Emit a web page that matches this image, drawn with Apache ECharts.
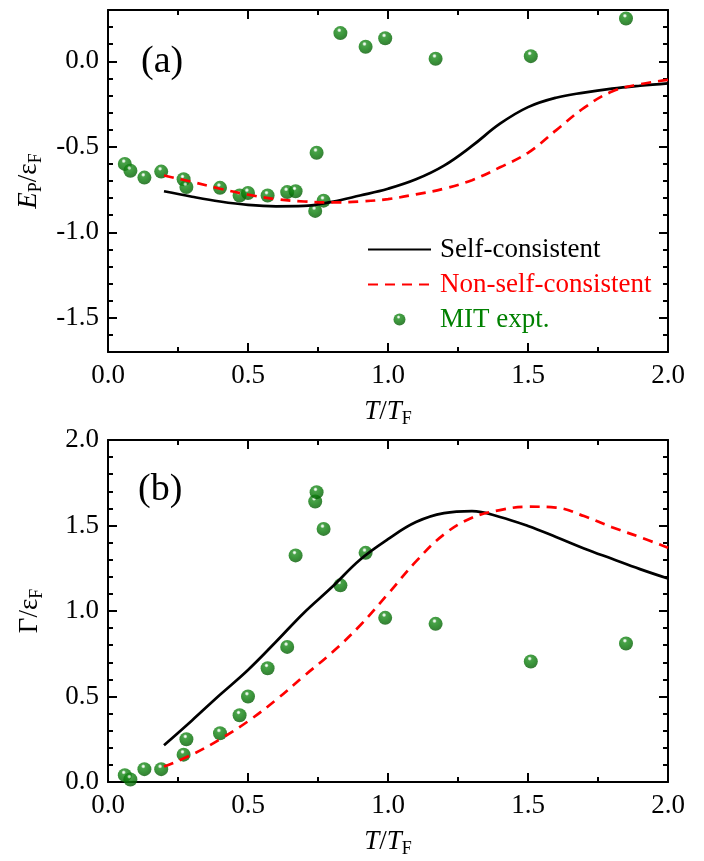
<!DOCTYPE html>
<html>
<head>
<meta charset="utf-8">
<script src="https://cdn.jsdelivr.net/npm/echarts@6/dist/echarts.min.js"></script>
<style>
  html, body { margin: 0; padding: 0; background: #fff; }
  #chart { width: 704px; height: 861px; }
</style>
</head>
<body>
<div id="chart"></div>
<script>
// Theory curves: temperature grid (T/T_F)
const theoryT = [0.2, 0.3, 0.4, 0.5, 0.6, 0.7, 0.8, 0.9, 1.0, 1.1, 1.2, 1.3, 1.4, 1.5, 1.6, 1.7, 1.8, 1.9, 2.0];

// (a) polaron energy E_P / eps_F
const epSelf    = [-0.760, -0.792, -0.820, -0.840, -0.848, -0.846, -0.822, -0.785, -0.745, -0.690, -0.610, -0.495, -0.365, -0.268, -0.213, -0.183, -0.160, -0.143, -0.129];
const epNonSelf = [-0.668, -0.705, -0.745, -0.780, -0.806, -0.820, -0.825, -0.820, -0.806, -0.778, -0.745, -0.695, -0.620, -0.535, -0.404, -0.272, -0.177, -0.134, -0.109];

// (b) decay rate Gamma / eps_F
const gammaSelf    = [0.215, 0.360, 0.510, 0.655, 0.820, 0.990, 1.140, 1.300, 1.420, 1.520, 1.572, 1.584, 1.550, 1.497, 1.433, 1.366, 1.305, 1.245, 1.190];
const gammaNonSelf = [0.090, 0.160, 0.250, 0.355, 0.480, 0.620, 0.757, 0.915, 1.100, 1.290, 1.448, 1.545, 1.590, 1.610, 1.605, 1.555, 1.490, 1.432, 1.370];

// MIT experiment
const mitT     = [0.06, 0.08, 0.13, 0.19, 0.27, 0.28, 0.40, 0.47, 0.50, 0.57, 0.64, 0.67, 0.74, 0.745, 0.77, 0.83, 0.92, 0.99, 1.17, 1.51, 1.85];
const mitEp    = [-0.60, -0.64, -0.68, -0.645, -0.69, -0.735, -0.74, -0.785, -0.77, -0.785, -0.765, -0.76, -0.875, -0.535, -0.815, 0.165, 0.085, 0.135, 0.015, 0.03, 0.25];
const mitGamma = [0.04, 0.015, 0.075, 0.075, 0.16, 0.25, 0.285, 0.39, 0.50, 0.665, 0.79, 1.325, 1.64, 1.695, 1.48, 1.15, 1.34, 0.96, 0.925, 0.705, 0.81];

const xTicks = { min: 0, max: 2, interval: 0.5 };
const labelsA = ['(a)'];
const labelsB = ['(b)'];
const seriesNames = ['Self-consistent', 'Non-self-consistent', 'MIT expt.'];

const pairs = (xs, ys) => xs.map((x, i) => [x, ys[i]]);

const FONT = 'Liberation Serif, Times New Roman, serif';
const FS = 27;
// shaded sphere look for the experimental points
const ballColor = {
  type: 'radial', x: 0.42, y: 0.3, r: 0.72,
  colorStops: [
    { offset: 0, color: '#ffffff' },
    { offset: 0.1, color: '#cfeacf' },
    { offset: 0.22, color: '#1c8a1c' },
    { offset: 0.55, color: '#0a7c0a' },
    { offset: 1, color: '#035a03' }
  ]
};

const nameRich = {
  i: { fontFamily: FONT, fontSize: FS, fontStyle: 'italic', color: '#000' },
  n: { fontFamily: FONT, fontSize: FS, color: '#000' },
  s: { fontFamily: FONT, fontSize: 18, color: '#000', padding: [14, 0, 0, 0] }
};

function xAxisPair(gridIndex) {
  const common = {
    type: 'value', gridIndex, min: xTicks.min, max: xTicks.max, interval: xTicks.interval,
    axisLine: { show: true, onZero: false, lineStyle: { color: '#000', width: 2 } },
    axisTick: { show: true, inside: true, length: 9, lineStyle: { color: '#000', width: 2 } },
    minorTick: { show: true, splitNumber: 2, length: 5, lineStyle: { color: '#000', width: 2 } },
    splitLine: { show: false }
  };
  return [
    Object.assign({}, common, {
      position: 'bottom',
      axisLabel: { show: true, fontFamily: FONT, fontSize: FS, color: '#000', margin: 10,
                   formatter: v => v.toFixed(1) },
      name: '{i|T}{n|/}{i|T}{s|F}',
      nameLocation: 'middle', nameGap: 44,
      nameTextStyle: { rich: nameRich }
    }),
    Object.assign({}, common, { position: 'top', axisLabel: { show: false } })
  ];
}

function yAxisPair(gridIndex, opts, name) {
  const common = Object.assign({
    type: 'value', gridIndex,
    axisLine: { show: true, onZero: false, lineStyle: { color: '#000', width: 2 } },
    axisTick: { show: true, inside: true, length: 9, lineStyle: { color: '#000', width: 2 } },
    minorTick: { show: true, splitNumber: 5, length: 5, lineStyle: { color: '#000', width: 2 } },
    splitLine: { show: false }
  }, opts);
  return [
    Object.assign({}, common, {
      position: 'left',
      axisLabel: Object.assign({ show: true, fontFamily: FONT, fontSize: FS, color: '#000', margin: 9,
                   formatter: v => v.toFixed(1) }, opts.labelExtra || {}),
      name, nameLocation: 'middle', nameGap: 62, nameRotate: 90,
      nameTextStyle: { rich: nameRich }
    }),
    Object.assign({}, common, { position: 'right', axisLabel: { show: false } })
  ];
}

const [xa0, xa1] = xAxisPair(0);
const [xa2, xa3] = xAxisPair(1);
const [ya0, ya1] = yAxisPair(0, { min: -1.7, max: 0.3, splitNumber: 4,
  labelExtra: { showMinLabel: false, showMaxLabel: false } }, '{i|E}{s|P}{n|/ε}{s|F}');
const [ya2, ya3] = yAxisPair(1, { min: 0, max: 2, interval: 0.5 }, '{n|Γ/ε}{s|F}');

function lineSeries(name, data, xi, yi, dashed) {
  return {
    name, type: 'line', xAxisIndex: xi, yAxisIndex: yi, data,
    smooth: 0.4, symbol: 'none', showSymbol: false, z: 3,
    color: dashed ? '#ff0000' : '#000000',
    lineStyle: { color: dashed ? '#ff0000' : '#000000', width: 2.7, type: dashed ? [10, 7] : 'solid' }
  };
}
function scatterSeries(name, data, xi, yi) {
  return {
    name, type: 'scatter', xAxisIndex: xi, yAxisIndex: yi, data,
    symbol: 'circle', symbolSize: 14, z: 2,
    itemStyle: { color: ballColor }
  };
}

const chart = echarts.init(document.getElementById('chart'), null, { renderer: 'canvas' });
chart.setOption({
  backgroundColor: '#fff',
  animation: false,
  grid: [
    { left: 108, top: 10, width: 560, height: 342 },
    { left: 108, top: 440, width: 560, height: 342 }
  ],
  xAxis: [xa0, xa1, xa2, xa3],
  yAxis: [ya0, ya1, ya2, ya3],
  legend: {
    orient: 'vertical', left: 362, top: 231,
    itemWidth: 63, itemHeight: 12, itemGap: 8,
    textStyle: { fontFamily: FONT, fontSize: FS, padding: [0, 0, 0, 4] },
    data: [
      { name: seriesNames[0], itemStyle: { opacity: 0 }, textStyle: { color: '#000000' } },
      { name: seriesNames[1], itemStyle: { opacity: 0 }, textStyle: { color: '#ff0000' } },
      { name: seriesNames[2], textStyle: { color: '#008000' } }
    ]
  },
  graphic: [
    { type: 'text', left: 141, top: 43, style: { text: labelsA[0], font: '38px ' + FONT, fill: '#000' } },
    { type: 'text', left: 138, top: 471, style: { text: labelsB[0], font: '38px ' + FONT, fill: '#000' } }
  ],
  series: [
    scatterSeries(seriesNames[2], pairs(mitT, mitEp), 0, 0),
    lineSeries(seriesNames[0], pairs(theoryT, epSelf), 0, 0, false),
    lineSeries(seriesNames[1], pairs(theoryT, epNonSelf), 0, 0, true),
    scatterSeries(seriesNames[2], pairs(mitT, mitGamma), 2, 2),
    lineSeries(seriesNames[0], pairs(theoryT, gammaSelf), 2, 2, false),
    lineSeries(seriesNames[1], pairs(theoryT, gammaNonSelf), 2, 2, true)
  ]
});
</script>
</body>
</html>
